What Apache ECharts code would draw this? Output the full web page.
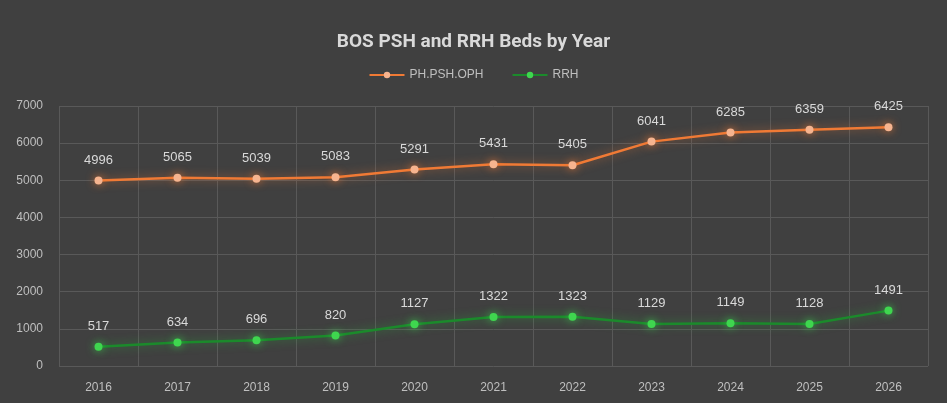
<!DOCTYPE html>
<html>
<head>
<meta charset="utf-8">
<style>
    html, body { margin: 0; padding: 0; background: #ffffff; }
    #chart { width: 947px; height: 403px; }
</style>
<script src="https://cdn.jsdelivr.net/npm/echarts@6/dist/echarts.min.js"></script>
</head>
<body>
<div id="chart"></div>
<script>
// 年份
var years = ['2016', '2017', '2018', '2019', '2020', '2021', '2022', '2023', '2024', '2025', '2026'];
// 两条线的数据
var phData = [4996, 5065, 5039, 5083, 5291, 5431, 5405, 6041, 6285, 6359, 6425];
var rrhData = [517, 634, 696, 820, 1127, 1322, 1323, 1129, 1149, 1128, 1491];

var chart = echarts.init(document.getElementById('chart'));

let option = {
    backgroundColor: '#404040',
    textStyle: { fontFamily: '"Liberation Sans", Arial, sans-serif' },
    title: {
        text: 'BOS PSH and RRH Beds by Year',
        left: 'center',
        top: 28,
        textStyle: { color: '#d9d9d9', fontSize: 19, fontWeight: 'bold', fontFamily: 'Roboto, sans-serif' }
    },
    legend: {
        top: 64,
        left: 'center',
        itemWidth: 35,
        itemHeight: 8,
        itemGap: 28,
        textStyle: { color: '#bfbfbf', fontSize: 12 },
        data: ['PH.PSH.OPH', 'RRH']
    },
    grid: {
        left: 59,
        right: 19,
        top: 106,
        bottom: 37
    },
    xAxis: {
        type: 'category',
        data: years,
        boundaryGap: true,
        axisLine: { show: false },
        axisTick: { show: false },
        axisLabel: { color: '#bfbfbf', fontSize: 12, margin: 16 },
        splitLine: { show: true, lineStyle: { color: '#595959', width: 1 } }
    },
    yAxis: {
        type: 'value',
        min: 0,
        max: 7000,
        interval: 1000,
        axisLine: { show: false },
        axisTick: { show: false },
        axisLabel: { color: '#bfbfbf', fontSize: 12, margin: 16, formatter: v => String(v) },
        splitLine: { lineStyle: { color: '#595959', width: 1 } }
    },
    series: [
        {
            name: 'PH.PSH.OPH',
            type: 'line',
            data: phData,
            symbol: 'circle',
            symbolSize: 8,
            lineStyle: { color: '#f07a35', width: 2.5, shadowColor: 'rgba(240,122,53,0.6)', shadowBlur: 10 },
            itemStyle: { color: '#f6b48f', borderWidth: 0, shadowColor: 'rgba(240,122,53,0.8)', shadowBlur: 8 },
            label: { show: true, position: 'top', distance: 10, color: '#d9d9d9', fontSize: 13 }
        },
        {
            name: 'RRH',
            type: 'line',
            data: rrhData,
            symbol: 'circle',
            symbolSize: 8,
            lineStyle: { color: '#1b8a2b', width: 2.5, shadowColor: 'rgba(40,180,60,0.6)', shadowBlur: 10 },
            itemStyle: { color: '#3fd64f', borderWidth: 0, shadowColor: 'rgba(60,220,80,0.8)', shadowBlur: 8 },
            label: { show: true, position: 'top', distance: 10, color: '#d9d9d9', fontSize: 13 }
        }
    ]
};

chart.setOption(option);
</script>
</body>
</html>
